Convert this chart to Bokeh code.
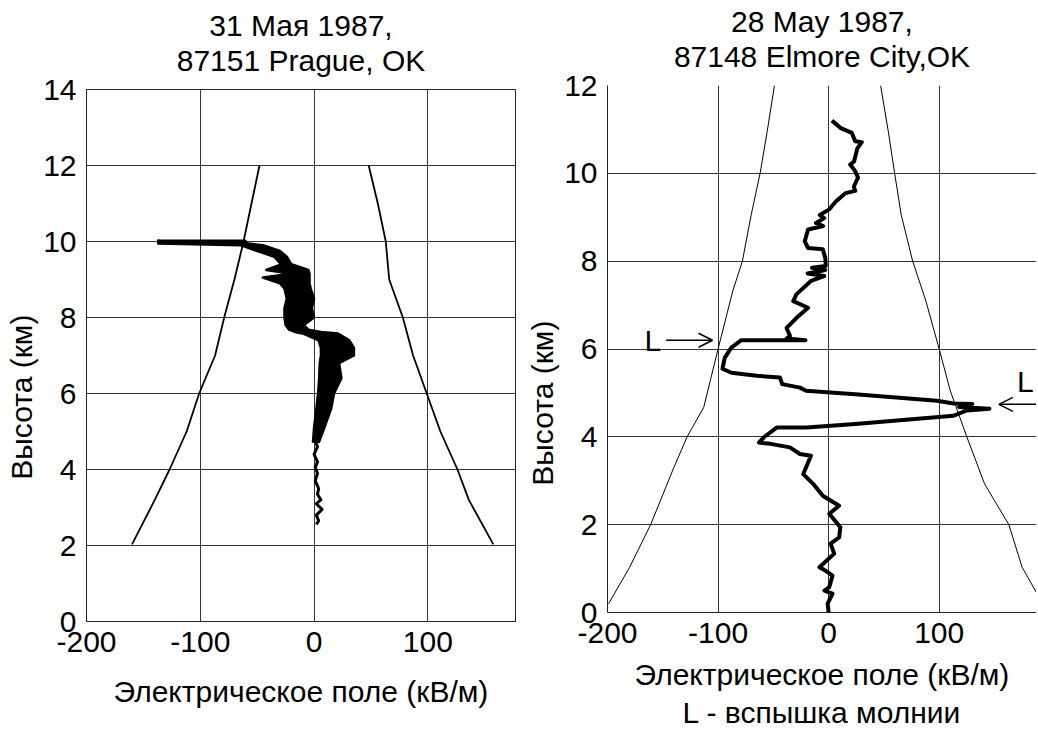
from bokeh.plotting import figure
from bokeh.layouts import row, column
from bokeh.models import Range1d, FixedTicker, Arrow, OpenHead, Title
from bokeh.core.properties import value
from bokeh.embed import file_html
from bokeh.resources import INLINE

FONT = "Liberation Sans"

# ---------------- Left panel data: 31 May 1987, Prague ----------------
left_title = ["31 Мая 1987,", "87151 Prague, OK"]
left_env_y = [2.03, 3.2, 4, 5, 6, 7, 8, 9, 10, 11, 12]
left_env_left_x = [-160, -140, -127, -112, -101, -87, -79, -70, -62, -55, -48]
left_env_right_x = [157.5, 136, 126, 111, 99, 87, 78, 66, 63, 56, 48]

# thin lower part of the sounding trace
left_prof_y = [2.55, 2.65, 2.8, 2.95, 3.1, 3.2, 3.35, 3.5, 3.7, 3.9, 4.05, 4.2, 4.4,
               4.6, 4.75]
left_prof_x = [2, 4, 2, 7, 2, 6, 3, 4, 1, 3, 1, 3, 0, 3, 1]

# thick upper part of the trace (left and right edges of the dark band)
left_band_y = [4.7, 5.1, 5.6, 6.0, 6.4, 6.8, 7.0, 7.2, 7.4, 7.58, 7.62, 7.68, 7.8,
               8.0, 8.24, 8.5, 8.76, 8.9, 9.05, 9.15, 9.25, 9.4, 9.6, 9.75, 9.9,
               9.95, 10.05]
left_band_lo = [-1, 0, 2, 3.5, 4.5, 5, 6, 6, 4, -10, -17, -22, -25,
                -26, -26, -24, -26, -30, -45, -20, -42, -29, -35, -50, -64,
                -137, -137]
left_band_hi = [4, 9, 15, 17.5, 24, 22, 35, 35, 31, 21, 6, -5, -9,
                0, -2, 0, -3, -4, -4, -4, -5, -20, -24, -30, -45,
                -58, -62]

# ---------------- Right panel data: 28 May 1987, Elmore City ----------------
right_title = ["28 May 1987,", "87148 Elmore City,OK"]
right_env_left_y = [12, 10.95, 10, 9.06, 8, 7.32, 6, 4.67, 4, 3.3, 2, 1.03, 0.2]
right_env_left_x = [-49, -55.6, -62, -70, -78, -86.7, -100, -113, -128, -140, -161, -180, -199]
right_env_right_y = [12, 10.95, 10, 9.06, 8, 7.09, 6, 5.05, 4, 2.93, 2, 1.03, 0.45]
right_env_right_x = [47, 54, 59.7, 65.6, 76, 88, 100, 110, 125, 141, 163, 175, 188]

right_prof_x = [3, 11, 21, 24, 30, 26, 23, 19.5, 24, 26.6, 22.8, 24, 15.4, 6.5, 0.6,
                -8, -4, -11.5, -5, -18.6, -21.6, -18.6, -5.3, -3, -2.6, -15, -3, -19,
                -4, -16, -29, -32, -18.6, -29, -38, -35, -38, -21, -79, -88, -94, -96,
                -88, -65, -44, -42, -26, -20.4, 24, 98, 113, 130, 118, 145.5, 125, 113,
                24, -20, -47, -58.6, -63, -52.6, -35, -26, -16, -23, -14, -5.3, 9.5,
                0.6, 10.6, 9.5, 1.8, 5, -8.3, -2.6, 3.5, 0.6, -3.8, 3.5, -0.9, 0]
right_prof_y = [11.2, 11.03, 10.92, 10.73, 10.71, 10.57, 10.27, 10.2, 10.05, 9.9, 9.7, 9.6,
                9.55, 9.36, 9.18, 9.05, 8.98, 8.87, 8.8, 8.72, 8.45, 8.3, 8.27, 8.07, 7.89,
                7.85, 7.8, 7.72, 7.66, 7.55, 7.25, 7.09, 6.94, 6.71, 6.48, 6.3, 6.24, 6.2,
                6.2, 6.03, 5.8, 5.55, 5.46, 5.39, 5.35, 5.2, 5.12, 5.05, 4.97, 4.82, 4.76,
                4.75, 4.68, 4.64, 4.6, 4.48, 4.29, 4.21, 4.21, 3.99, 3.87, 3.84, 3.76,
                3.61, 3.57, 3.15, 2.93, 2.66, 2.43, 2.25, 1.94, 1.71, 1.57, 1.34, 1.03,
                0.95, 0.84, 0.58, 0.5, 0.43, 0.2, 0]

# lightning markers "L" and arrows
flash_label_x = [-159, 178]
flash_label_y = [6.2, 5.25]
arrow_x_start = [-147, 190]
arrow_x_end = [-105, 154]
arrow_y = [6.2, 4.74]

x_ticks = [-200, -100, 0, 100]
x_tick_labels = {-200: "-200", -100: "-100", 0: "0", 100: "100"}
x_label = "Электрическое поле (кВ/м)"
legend_note = "L - вспышка молнии"
y_label = "Высота (км)"

FS = "30px"
NBSP = "\u00a0"


def style(p, yticks, title_lines, ylabel_pad, xlabel_standoff):
    p.xaxis.ticker = FixedTicker(ticks=x_ticks)
    p.xaxis.major_label_overrides = x_tick_labels
    p.yaxis.ticker = FixedTicker(ticks=yticks)
    p.xgrid.ticker = FixedTicker(ticks=x_ticks)
    p.ygrid.ticker = FixedTicker(ticks=yticks)
    for g in (p.xgrid, p.ygrid):
        g.grid_line_color = "#333333"
        g.grid_line_width = 1
        g.grid_line_alpha = 1.0
    for ax in (p.xaxis, p.yaxis):
        ax.major_tick_line_color = None
        ax.minor_tick_line_color = None
        ax.axis_line_color = "#222222"
        ax.axis_line_width = 1
        ax.major_label_text_font = FONT
        ax.major_label_text_font_size = FS
        ax.major_label_text_color = "black"
        ax.major_label_standoff = 4
        ax.axis_label_text_font = FONT
        ax.axis_label_text_font_size = FS
        ax.axis_label_text_font_style = "normal"
        ax.axis_label_text_color = "black"
    p.xaxis.axis_label = x_label
    p.xaxis.axis_label_standoff = xlabel_standoff
    # trailing no-break spaces move the visible y title lower, as in the original
    p.yaxis.axis_label = y_label + NBSP * ylabel_pad
    p.yaxis.axis_label_standoff = 2
    # small spacer between frame and title, then the two title lines (inner first)
    p.add_layout(Title(text=NBSP, text_font_size="10px", standoff=0), "above")
    for line in reversed(title_lines):
        p.add_layout(Title(text=line, align="center", text_font=FONT, text_font_size=FS,
                           text_font_style="normal", text_color="black", standoff=0),
                     "above")
    p.background_fill_color = "white"
    p.border_fill_color = "white"


# ---------------- Left figure ----------------
p1 = figure(width=523, height=727, output_backend="svg", toolbar_location=None,
            x_range=Range1d(-200, 177), y_range=Range1d(0, 14),
            min_border_left=86, min_border_right=8, min_border_top=89, min_border_bottom=106,
            title=None)
style(p1, [0, 2, 4, 6, 8, 10, 12, 14], left_title, 10, 20)
p1.outline_line_color = "#222222"
p1.outline_line_width = 1
p1.line(left_env_left_x, left_env_y, line_color="black", line_width=1.8)
p1.line(left_env_right_x, left_env_y, line_color="black", line_width=1.8)
p1.line(left_prof_x, left_prof_y, line_color="black", line_width=3, line_join="round")
p1.harea(x1=left_band_lo, x2=left_band_hi, y=left_band_y, fill_color="black")
p1.line(left_band_lo, left_band_y, line_color="black", line_width=2.5, line_join="round")
p1.line(left_band_hi, left_band_y, line_color="black", line_width=2.5, line_join="round")

# ---------------- Right figure ----------------
p2 = figure(width=513, height=736, output_backend="svg", toolbar_location=None,
            x_range=Range1d(-200, 188), y_range=Range1d(0, 12),
            min_border_left=78, min_border_right=0, min_border_top=85, min_border_bottom=124,
            title=None)
style(p2, [0, 2, 4, 6, 8, 10, 12], right_title, 13, 12)
p2.add_layout(Title(text=legend_note, align="center", offset=-30, text_font=FONT,
                    text_font_size=FS, text_font_style="normal", text_color="black",
                    standoff=0), "below")
p2.outline_line_color = None
p2.line(right_env_left_x, right_env_left_y, line_color="black", line_width=1)
p2.line(right_env_right_x, right_env_right_y, line_color="black", line_width=1)
p2.line(right_prof_x, right_prof_y, line_color="black", line_width=4, line_join="round")

p2.text(x=flash_label_x, y=flash_label_y, text=["L", "L"], text_font=value(FONT),
        text_font_size=FS, text_align="center", text_baseline="middle", text_color="black")
for xs, xe, ay in zip(arrow_x_start, arrow_x_end, arrow_y):
    p2.add_layout(Arrow(end=OpenHead(size=14, line_width=1.5, line_color="black"),
                        x_start=xs, y_start=ay, x_end=xe, y_end=ay,
                        line_width=1.5, line_color="black"))

layout = row(column(p1), column(p2))
open("out.html", "w").write(file_html(layout, INLINE))
